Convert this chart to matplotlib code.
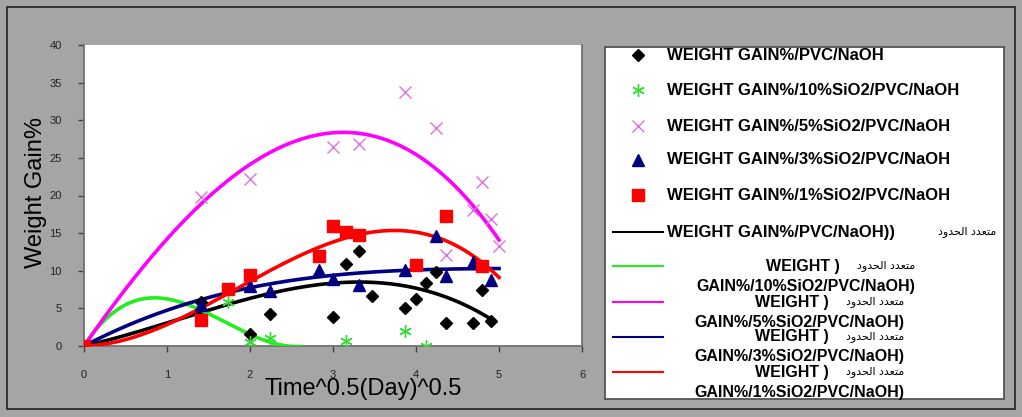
import numpy as np
import matplotlib
matplotlib.use('Agg')
import matplotlib.pyplot as plt
from matplotlib.patches import Rectangle
from matplotlib.lines import Line2D

# Time^0.5 (day^0.5) and weight gain % for each film
x_pvc = [0, 1.414, 2.0, 2.236, 3.0, 3.162, 3.317, 3.464, 3.873, 4.0, 4.123, 4.243, 4.359, 4.69, 4.796, 4.899]
y_pvc = [0, 5.9, 1.6, 4.2, 3.8, 10.9, 12.6, 6.6, 5.0, 6.2, 8.4, 9.9, 3.1, 3.1, 7.5, 3.3]

x_si10 = [0, 1.732, 2.0, 2.236, 3.162, 3.873, 4.123]
y_si10 = [0, 5.8, 0.5, 1.0, 0.7, 2.0, 0.0]

x_si5 = [0, 1.414, 2.0, 3.0, 3.317, 3.873, 4.243, 4.359, 4.69, 4.796, 4.899, 5.0]
y_si5 = [0, 19.8, 22.2, 26.4, 26.9, 33.8, 29.0, 12.1, 18.1, 21.8, 16.9, 13.3]

x_si3 = [0, 1.414, 2.0, 2.236, 2.828, 3.0, 3.317, 3.873, 4.243, 4.359, 4.69, 4.899]
y_si3 = [0, 5.5, 8.0, 7.3, 10.1, 8.9, 8.1, 10.1, 14.6, 9.3, 11.1, 8.8]

x_si1 = [0, 1.414, 1.732, 2.0, 2.828, 3.0, 3.162, 3.317, 4.0, 4.359, 4.796]
y_si1 = [0, 3.4, 7.6, 9.5, 12.0, 15.9, 15.1, 14.7, 10.8, 17.3, 10.6]

# polynomial trend lines (coefficients, highest power first) and the x they run to
trend_pvc = [-0.2401, 0.818, 2.491, 0.0]
trend_si10 = [2.595, -13.268, 16.931, 0.0]
trend_si5 = [-0.2319, -1.459, 15.91, 0.0]
trend_si3 = [0.0681, -1.0815, 5.764, 0.0]
trend_si1 = [-0.5683, 3.154, 0.259, 0.0]
trend_end = [4.9, 2.6, 5.0, 5.0, 5.0]

labels = ['WEIGHT GAIN%/PVC/NaOH', 'WEIGHT GAIN%/10%SiO2/PVC/NaOH', 'WEIGHT GAIN%/5%SiO2/PVC/NaOH',
          'WEIGHT GAIN%/3%SiO2/PVC/NaOH', 'WEIGHT GAIN%/1%SiO2/PVC/NaOH']
trend_tails = ['GAIN%/10%SiO2/PVC/NaOH)', 'GAIN%/5%SiO2/PVC/NaOH)', 'GAIN%/3%SiO2/PVC/NaOH)',
               'GAIN%/1%SiO2/PVC/NaOH)']
# "polynomial" in Arabic, written in presentation forms so it reads right to left
poly_ar = '\uFEA9\uFEED\uFEAA\uFEA4\uFEDF\uFE8D \uFEA9\uFEAA\uFECC\uFE98\uFEE3'

xticks = [0, 1, 2, 3, 4, 5, 6]
yticks = [0, 5, 10, 15, 20, 25, 30, 35, 40]

series = [
    (x_pvc, y_pvc, dict(marker='D', ms=6, color='black', mec='black'), 'black', trend_pvc),
    (x_si10, y_si10, dict(marker=(6, 2, 0), ms=9, color='#33dd33', mew=1.0), '#22ee22', trend_si10),
    (x_si5, y_si5, dict(marker='x', ms=9, color='#e070e0', mew=1.0), '#ff00ff', trend_si5),
    (x_si3, y_si3, dict(marker='^', ms=8, color='#000080'), '#000080', trend_si3),
    (x_si1, y_si1, dict(marker='s', ms=9, color='red'), 'red', trend_si1),
]

W, H = 1022, 417
bg = '#a5a5a5'
fig = plt.figure(figsize=(W / 100, H / 100), dpi=100, facecolor=bg)
plt.rcParams['font.family'] = ['Liberation Sans', 'DejaVu Sans']

# outer chart frame
fig.patches.append(Rectangle((7 / W, 8 / H), 1008 / W, 402 / H, transform=fig.transFigure,
                             fill=False, edgecolor='#202020', lw=1.2))

ax = fig.add_axes([84 / W, 1 - 346 / H, 498 / W, 301 / H])
ax.set_facecolor('white')

# scatter points
for xs, ys, style, _, _ in series:
    ax.plot(xs, ys, ls='none', **style, zorder=4)

# trend lines
for (xs, ys, _, lc, coef), x_end in zip(series, trend_end):
    xx = np.linspace(0, x_end, 200)
    ax.plot(xx, np.polyval(coef, xx), color=lc, lw=2.6, zorder=3)

ax.set_xlim(0, 6)
ax.set_ylim(0, 40)
ax.set_xticks(xticks)
ax.set_yticks(yticks)
ax.tick_params(direction='out', length=4, width=1, color='#404040', labelsize=8,
               labelcolor='#222222')
ax.tick_params(axis='x', pad=13)
ax.tick_params(axis='y', pad=12)
for side in ['left', 'bottom', 'right']:
    ax.spines[side].set_color('#707070')
    ax.spines[side].set_linewidth(1.3)
ax.spines['top'].set_visible(False)

fig.text(36 / W, 1 - 193 / H, 'Weight Gain%', rotation=90, ha='center', va='center', fontsize=17)
fig.text(363 / W, 1 - 389 / H, 'Time^0.5(Day)^0.5', ha='center', va='center', fontsize=17)

# legend panel drawn in pixel units
lg = fig.add_axes([605 / W, 1 - 399 / H, 399 / W, 352 / H])
lg.set_xlim(605, 1004)
lg.set_ylim(399, 47)
lg.set_xticks([])
lg.set_yticks([])
lg.set_facecolor('white')
for s in lg.spines.values():
    s.set_color('#555555')
    s.set_linewidth(1.3)

fs = 12
fs2 = 11.5
row_y = [55, 90, 126, 160, 195]
for (xs, ys, style, _, _), lab, yy in zip(series, labels, row_y):
    lg.add_line(Line2D([638], [yy], ls='none', **style))
    lg.text(667, yy, lab, ha='left', va='center', fontsize=fs, fontweight='bold')

lg.add_line(Line2D([613, 663], [232, 232], color='black', lw=1.5))
lg.text(667, 232, 'WEIGHT GAIN%/PVC/NaOH))', ha='left', va='center', fontsize=fs, fontweight='bold')
lg.text(996, 232, poly_ar, ha='right', va='center', fontsize=8, family='DejaVu Sans')

trend_rows = [(266, 287, 915), (302, 322, 904), (337, 356, 904), (372, 393, 904)]
for (_, _, _, lc, _), tail, (y1, y2, xr) in zip(series[1:], trend_tails, trend_rows):
    lg.add_line(Line2D([613, 663], [y1, y1], color=lc, lw=1.5))
    lg.text(xr, y1, poly_ar, ha='right', va='center', fontsize=8, family='DejaVu Sans')
    lg.text(xr - 75, y1, 'WEIGHT )', ha='right', va='center', fontsize=fs2, fontweight='bold')
    lg.text(xr, y2, tail, ha='right', va='center', fontsize=fs2, fontweight='bold')

fig.savefig('out.png', dpi=100, facecolor=bg)
